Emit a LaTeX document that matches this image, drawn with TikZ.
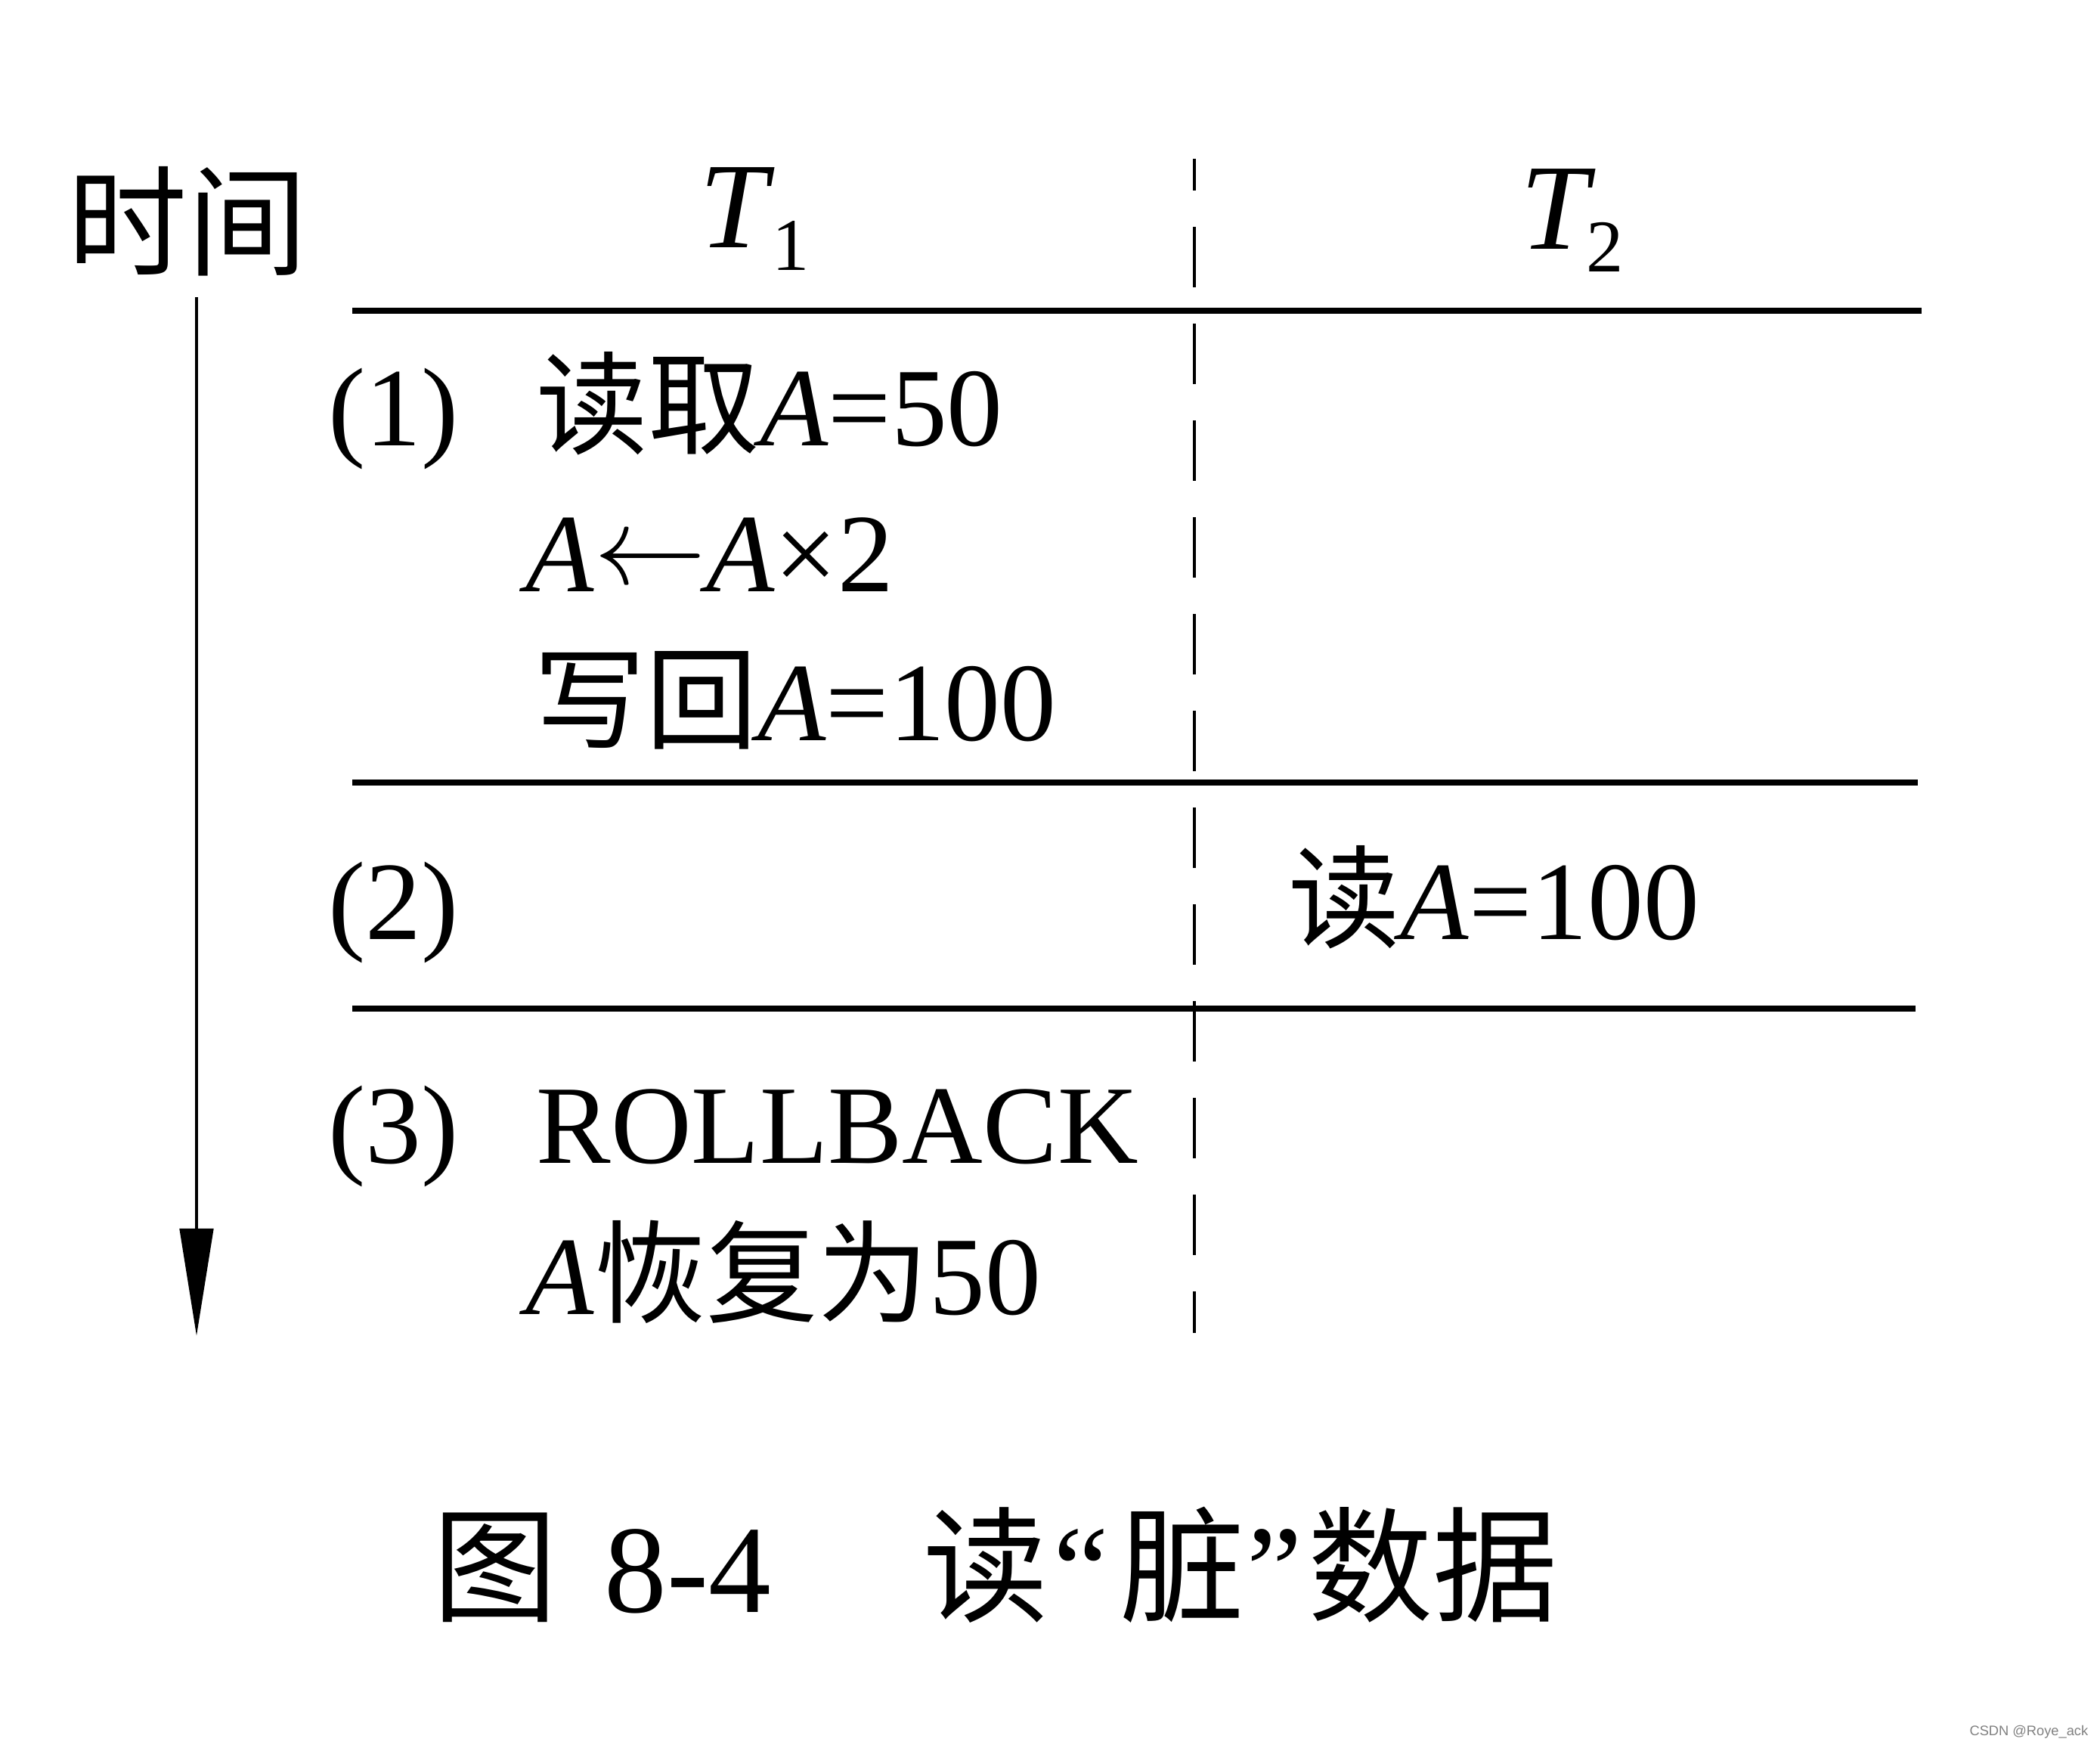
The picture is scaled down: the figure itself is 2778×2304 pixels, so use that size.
\documentclass[tikz,border=0pt]{standalone}
\usepackage{fontspec}
\setmainfont{Liberation Serif}
\newfontfamily\cjk{Noto Sans CJK SC}
\newfontfamily\wmfont{Liberation Sans}
\usetikzlibrary{arrows.meta,positioning}

\newcommand{\zh}[1]{{\cjk #1}}
\newcommand{\va}{\textit{A}}
\newcommand{\larr}{\raisebox{3pt}{\scalebox{4.2}{\fontsize{10}{12}\selectfont$\leftarrow$}}}

\begin{document}
\begin{tikzpicture}[x=0.01cm,y=-0.01cm,
    txt/.style = {inner sep=0pt, anchor=base west, font=\fontsize{42}{48}\selectfont},
    head/.style = {inner sep=0pt, anchor=base west, font=\fontsize{46}{52}\selectfont},
    captxt/.style = {inner sep=0pt, anchor=base west, font=\fontsize{47}{54}\selectfont},
    rule/.style = {line width=2.3pt},
    sepline/.style = {line width=1.4pt, dash pattern=on 22.8pt off 13.6pt, dash phase=10.8pt}]
    \useasboundingbox (0,0) rectangle (2778,2304);

    % header
    \node[inner sep=0pt, anchor=base, font=\fontsize{45}{52}\selectfont] (time) at (248,353) {\zh{时间}};
    \node[head] (t1) at (925,328) {\textit{T}\kern-1pt\raisebox{-8.3pt}{\fontsize{28}{30}\selectfont 1}};
    \node[head] (t2) at (2011,330) {\textit{T}\kern-3.5pt\raisebox{-8.5pt}{\fontsize{28}{30}\selectfont 2}};

    % rules and the dashed split
    \coordinate (h1a) at (466,411);  \coordinate (h1b) at (2542,411);
    \coordinate (h2a) at (466,1035); \coordinate (h2b) at (2537,1035);
    \coordinate (h3a) at (466,1334); \coordinate (h3b) at (2534,1334);
    \draw[rule] (h1a) -- (h1b);
    \draw[rule] (h2a) -- (h2b);
    \draw[rule] (h3a) -- (h3b);
    \coordinate (vtop) at (1580,210); \coordinate (vbot) at (1580,1763);
    \draw[sepline] (vtop) -- (vbot);

    % time axis
    \coordinate (atop) at (260,393); \coordinate (abot) at (260,1767);
    \draw[line width=1.4pt, -{Triangle[length=1.42cm, width=0.44cm]}] (atop) -- (abot);

    % step (1)
    \node[txt] (n1) at (434,590) {(1)};
    \node[txt] (s1a) at (709,590) {\zh{读取}\va=50};
    \node[txt] (s1b) at (695,783) {\va\larr\va×2};
    \node[txt] (s1c) at (706,980) {\zh{写回}\va=100};

    % step (2)
    \node[txt] (n2) at (434,1243) {(2)};
    \node[txt] (s2a) at (1704,1243) {\zh{读}\va=100};

    % step (3)
    \node[txt] (n3) at (434,1538) {(3)};
    \node[txt] (s3a) at (709,1538) {ROLLBACK};
    \node[txt] (s3b) at (695,1738) {\va\zh{恢复为}50};

    % caption
    \node[captxt] (c1) at (572,2132) {\zh{图}};
    \node[captxt] (c2) [base right=0.6cm of c1] {8-4};
    \node[captxt] (c3) [base right=2.0cm of c2] {\zh{读}\hspace{2pt}“\hspace{4pt}\zh{脏}\hspace{1pt}”\hspace{2pt}\zh{数据}};

    \node[inner sep=0pt, anchor=base east, text=gray, font=\wmfont\fontsize{5.2}{6}\selectfont] (wm) at (2763,2295) {CSDN @Roye\_ack};
\end{tikzpicture}
\end{document}
